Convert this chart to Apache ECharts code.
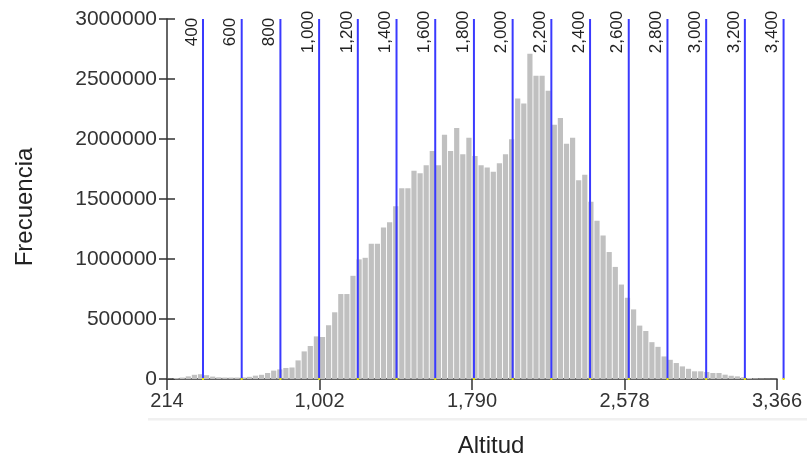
<!DOCTYPE html>
<html>
<head>
<meta charset="utf-8">
<script src="https://cdn.jsdelivr.net/npm/echarts@6/dist/echarts.min.js"></script>
<style>
html,body{margin:0;padding:0;background:#fff;}
#chart{width:807px;height:463px;}
</style>
</head>
<body>
<div id="chart"></div>
<script>
// Histogram range (Altitud)
const binMin = 214;
const binMax = 3366;
// Frequency per bin (100 bins)
const frecuencia = [
  3000, 8000, 12000, 22000, 35000, 40000, 32000, 20000, 14000, 12000,
  12000, 12000, 13000, 18000, 28000, 35000, 50000, 70000, 80000, 92000,
  96000, 155000, 230000, 275000, 355000, 350000, 448000, 556000, 708000, 708000,
  860000, 997000, 1010000, 1127000, 1127000, 1262000, 1307000, 1439000, 1589000, 1589000,
  1735000, 1715000, 1782000, 1900000, 1782000, 2036000, 1900000, 2091000, 1873000, 2011000,
  1859000, 1782000, 1762000, 1727000, 1798000, 1873000, 1997000, 2337000, 2295000, 2710000,
  2528000, 2528000, 2403000, 2119000, 2174000, 1961000, 2011000, 1657000, 1702000, 1478000,
  1318000, 1196000, 1058000, 934000, 787000, 677000, 580000, 445000, 400000, 307000,
  268000, 188000, 160000, 133000, 105000, 85000, 64000, 64000, 58000, 50000,
  50000, 36000, 27000, 22000, 14000, 8000, 5000, 3000, 2000, 1000
];
// Break values (blue lines) and their labels
const cortes = [400, 600, 800, 1000, 1200, 1400, 1600, 1800, 2000, 2200, 2400, 2600, 2800, 3000, 3200, 3400];
const cortesLabels = ['400', '600', '800', '1,000', '1,200', '1,400', '1,600', '1,800', '2,000', '2,200', '2,400', '2,600', '2,800', '3,000', '3,200', '3,400'];
// Axis ticks
const xTicks = [214, 1002, 1790, 2578, 3366];
const yMax = 3000000;
const yStep = 500000;

const binW = (binMax - binMin) / frecuencia.length;
const barData = frecuencia.map((v, i) => [binMin + (i + 0.5) * binW, v]);
const lineData = cortes.map((c, i) => [c, yMax, i]);

const FONT = '"Liberation Sans", Arial, sans-serif';
const AX = '#333';

const chart = echarts.init(document.getElementById('chart'), null, {renderer: 'canvas'});
chart.setOption({
  animation: false,
  backgroundColor: '#fff',
  grid: {left: 167, right: 30, top: 19, bottom: 81.5, containLabel: false},
  graphic: [{
    type: 'rect', shape: {x: 148, y: 418, width: 659, height: 2.5},
    style: {fill: '#f0f0f0'}, silent: true, z: 0
  }],
  xAxis: {
    type: 'value', min: binMin, max: binMax,
    name: 'Altitud', nameLocation: 'middle', nameGap: 55,
    nameTextStyle: {fontFamily: FONT, fontSize: 24, color: '#222', padding: [0, 0, 0, 38]},
    splitLine: {show: false},
    axisLine: {show: true, lineStyle: {color: AX, width: 1.5}},
    axisTick: {show: true, customValues: xTicks, length: 11, lineStyle: {color: AX, width: 1.5}},
    axisLabel: {
      customValues: xTicks, margin: 12, fontFamily: FONT, fontSize: 20, color: '#333',
      formatter: v => Number(v).toLocaleString('en-US')
    }
  },
  yAxis: [{
    type: 'value', min: 0, max: yMax, interval: yStep, position: 'left',
    name: 'Frecuencia', nameLocation: 'middle', nameGap: 130, nameRotate: 90,
    nameTextStyle: {fontFamily: FONT, fontSize: 24, color: '#222', padding: [0, 16, 0, 0]},
    splitLine: {show: false},
    axisLine: {show: true, lineStyle: {color: AX, width: 1.5}},
    axisTick: {show: true, inside: false, length: 8, lineStyle: {color: AX, width: 1.5}},
    axisLabel: {margin: 10, fontFamily: FONT, fontSize: 21, color: '#333', formatter: v => String(v)}
  }, {
    type: 'value', min: 0, max: yMax, interval: yStep, position: 'left',
    splitLine: {show: false},
    axisLine: {show: false},
    axisTick: {show: true, inside: true, length: 8, lineStyle: {color: AX, width: 1.5}},
    axisLabel: {show: false}
  }],
  series: [{
    type: 'custom',
    name: 'Frecuencia',
    data: barData,
    z: 2,
    renderItem: function (params, api) {
      const c = api.value(0);
      const p0 = api.coord([c - binW / 2, 0]);
      const p1 = api.coord([c + binW / 2, api.value(1)]);
      return {
        type: 'rect',
        shape: {x: p0[0] + 0.4, y: p1[1], width: p1[0] - p0[0] - 0.9, height: p0[1] - p1[1]},
        style: {fill: '#c0c0c0'}
      };
    }
  }, {
    type: 'custom',
    name: 'Cortes',
    data: lineData,
    z: 5,
    clip: false,
    renderItem: function (params, api) {
      const v = api.value(0);
      const idx = api.value(2);
      const b = api.coord([v, 0]);
      const t = api.coord([v, api.value(1)]);
      return {
        type: 'group',
        children: [{
          type: 'line',
          shape: {x1: b[0], y1: b[1], x2: t[0], y2: t[1]},
          style: {stroke: '#3a3aff', lineWidth: 2}
        }, {
          type: 'rect',
          shape: {x: b[0] - 1, y: b[1] - 1, width: 2, height: 2},
          style: {fill: '#e6e600'}
        }, {
          type: 'text',
          x: t[0] - 11, y: t[1] + 13,
          rotation: Math.PI / 2,
          style: {
            text: cortesLabels[idx], font: '17px ' + FONT, fill: '#222',
            align: 'center', verticalAlign: 'middle'
          }
        }]
      };
    }
  }]
});
</script>
</body>
</html>
